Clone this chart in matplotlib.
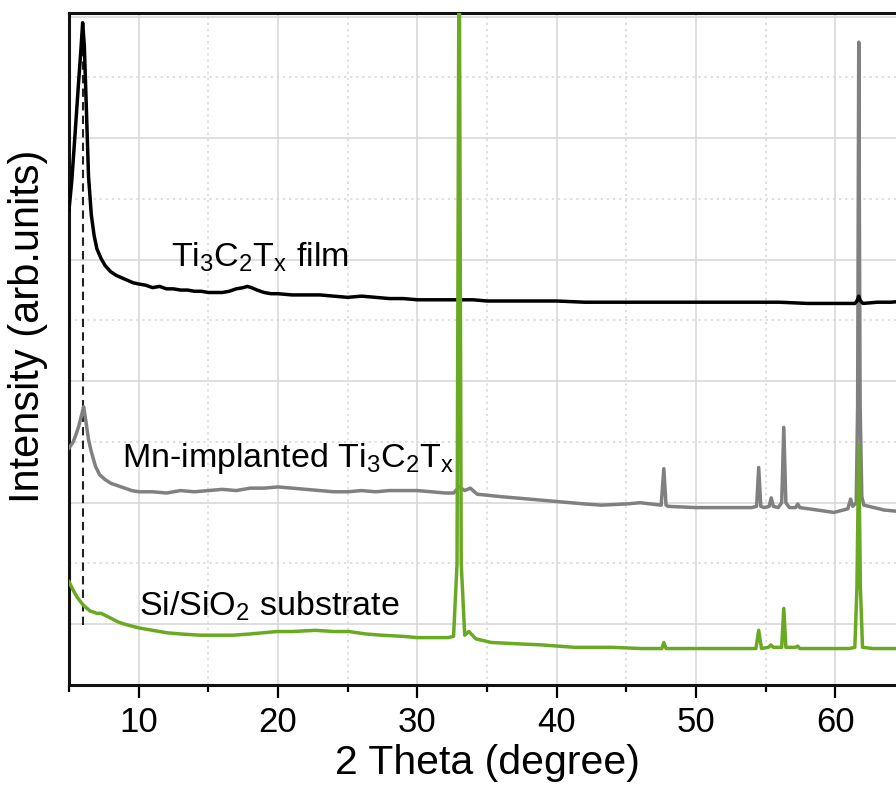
import matplotlib
matplotlib.use("Agg")
import matplotlib.pyplot as plt
from matplotlib.ticker import MultipleLocator, FixedLocator

plt.rcParams['font.family'] = ['Liberation Sans', 'DejaVu Sans']
plt.rcParams['mathtext.fontset'] = 'custom'
plt.rcParams['mathtext.rm'] = 'Liberation Sans'
plt.rcParams['mathtext.it'] = 'Liberation Sans:italic'

# ---------------- data ----------------
film_2theta = [5.0, 5.2, 5.45, 5.7, 5.85, 5.98, 6.1, 6.25, 6.4, 6.6, 6.8, 7.0, 7.3, 7.6,
               8.0, 8.4, 8.8, 9.2, 9.6, 10.0, 10.5, 11.0, 11.5, 12.0, 12.5, 13.0, 13.5,
               14.0, 14.5, 15.0, 15.5, 16.0, 16.5, 17.0, 17.5, 17.8, 18.1, 18.5, 19.0,
               19.5, 20.0, 21.0, 22.0, 23.0, 24.0, 25.0, 26.0, 27.0, 28.0, 29.0, 30.0,
               31.0, 32.0, 33.0, 34.0, 35.0, 36.0, 38.0, 40.0, 42.0, 44.0, 46.0, 48.0,
               50.0, 52.0, 54.0, 56.0, 58.0, 60.0, 61.4, 61.55, 61.68, 61.8, 62.0, 63.0,
               64.0, 65.0]
film_int = [3.91, 4.15, 4.56, 4.98, 5.22, 5.45, 5.26, 4.73, 4.19, 3.87, 3.70, 3.59, 3.51, 3.45,
            3.40, 3.37, 3.35, 3.33, 3.31, 3.30, 3.29, 3.27, 3.28, 3.26, 3.26, 3.25, 3.25,
            3.24, 3.24, 3.23, 3.23, 3.23, 3.24, 3.26, 3.27, 3.28, 3.27, 3.25, 3.23,
            3.22, 3.22, 3.21, 3.21, 3.21, 3.20, 3.19, 3.20, 3.19, 3.18, 3.18, 3.17,
            3.17, 3.17, 3.17, 3.17, 3.16, 3.16, 3.16, 3.16, 3.15, 3.15, 3.15, 3.15,
            3.15, 3.15, 3.15, 3.15, 3.14, 3.14, 3.14, 3.16, 3.20, 3.16, 3.14, 3.15,
            3.15, 3.16]

mn_2theta = [5.0, 5.3, 5.5, 5.7, 5.9, 6.05, 6.2, 6.4, 6.6, 6.9, 7.2, 7.6, 8.0, 8.5, 9.0,
             9.5, 10.0, 11.0, 12.0, 13.0, 14.0, 15.0, 16.0, 17.0, 18.0, 19.0, 20.0,
             21.0, 22.0, 23.0, 24.0, 25.0, 26.0, 27.0, 28.0, 29.0, 30.0, 31.0, 32.0,
             32.6, 33.0, 33.4, 33.8, 34.3, 36.0, 38.0, 40.0, 42.0, 43.2, 45.0, 46.0,
             47.5, 47.69, 47.85, 48.0, 50.0, 52.0, 54.0, 54.35, 54.5, 54.65, 54.9, 55.25,
             55.4, 55.55, 55.9, 56.15, 56.3, 56.45, 56.7, 57.15, 57.3, 57.45, 58.7, 59.9,
             60.9, 61.1, 61.25, 61.5, 61.6, 61.68, 61.78, 61.9, 62.05, 63.5, 64.4, 65.0]
mn_int = [1.95, 2.00, 2.06, 2.13, 2.22, 2.29, 2.18, 2.02, 1.92, 1.80, 1.73, 1.69, 1.66, 1.64, 1.62,
          1.60, 1.59, 1.59, 1.58, 1.60, 1.59, 1.60, 1.61, 1.60, 1.62, 1.62, 1.63,
          1.62, 1.61, 1.60, 1.59, 1.59, 1.60, 1.59, 1.60, 1.60, 1.60, 1.59, 1.58,
          1.58, 1.63, 1.60, 1.62, 1.57, 1.55, 1.53, 1.51, 1.49, 1.48, 1.49, 1.50,
          1.48, 1.78, 1.48, 1.47, 1.46, 1.46, 1.46, 1.47, 1.79, 1.47, 1.46, 1.47,
          1.54, 1.47, 1.46, 1.50, 2.12, 1.50, 1.46, 1.46, 1.49, 1.46, 1.44, 1.42,
          1.45, 1.53, 1.47, 1.50, 2.30, 5.29, 2.30, 1.55, 1.48, 1.44, 1.43, 1.43]

si_2theta = [5.0, 5.3, 5.6, 6.0, 6.5, 7.0, 7.3, 8.0, 8.5, 9.0, 10.0, 11.0, 12.0, 13.0,
             14.4, 15.5, 16.8, 18.0, 19.9, 21.0, 22.7, 24.0, 25.1, 26.3, 27.4, 29.0,
             30.0, 31.2, 32.2, 32.6, 32.85, 33.0, 33.15, 33.4, 33.7, 34.2, 35.3, 37.0,
             38.9, 41.3, 44.0, 46.1, 47.55, 47.69, 47.85, 48.4, 50.8, 53.0, 54.3, 54.5,
             54.7, 55.2, 55.37, 55.55, 56.15, 56.3, 56.45, 57.15, 57.3, 57.45, 59.1,
             61.0, 61.4, 61.55, 61.68, 61.8, 61.95, 62.7, 64.4, 65.0]
si_int = [0.85, 0.78, 0.72, 0.66, 0.61, 0.59, 0.59, 0.55, 0.52, 0.50, 0.47, 0.45, 0.43, 0.42,
          0.41, 0.41, 0.41, 0.42, 0.44, 0.44, 0.45, 0.44, 0.44, 0.42, 0.41, 0.40,
          0.39, 0.39, 0.39, 0.40, 1.00, 6.50, 1.00, 0.41, 0.44, 0.38, 0.35, 0.34,
          0.33, 0.31, 0.31, 0.30, 0.30, 0.35, 0.30, 0.30, 0.30, 0.30, 0.30, 0.45,
          0.30, 0.31, 0.33, 0.31, 0.31, 0.63, 0.31, 0.31, 0.32, 0.30, 0.30,
          0.30, 0.31, 0.80, 1.97, 0.80, 0.31, 0.30, 0.30, 0.30]

xticks_major = [10, 20, 30, 40, 50, 60]
dash_x = 6.0

# ---------------- figure ----------------
fig = plt.figure(figsize=(8.96, 7.87), dpi=100)
ax = fig.add_axes([69/896, 102/787, 836/896, 672/787])

ax.plot(mn_2theta, mn_int, color='#808080', lw=2.5, zorder=3)
ax.plot(film_2theta, film_int, color='#000000', lw=2.5, zorder=4)
ax.plot(si_2theta, si_int, color='#6aaa22', lw=2.5, zorder=5)
ax.vlines(dash_x, 0.49, 5.35, colors='#222222', linestyles=(0, (4, 2.5)), lw=1.5, zorder=2)

ax.set_xlim(5, 65)
ax.set_ylim(0, 5.53)

ax.xaxis.set_major_locator(FixedLocator(xticks_major))
ax.xaxis.set_minor_locator(MultipleLocator(5))
ax.yaxis.set_major_locator(FixedLocator([0.5, 1.5, 2.5, 3.5, 4.5, 5.5]))
ax.yaxis.set_minor_locator(FixedLocator([1, 2, 3, 4, 5]))
ax.set_yticklabels([])
ax.tick_params(axis='y', which='both', length=0)
ax.tick_params(axis='x', which='major', length=9, width=1.6, labelsize=25, pad=6, direction='out')
ax.tick_params(axis='x', which='minor', length=5, width=1.6, direction='out')

ax.grid(which='major', color='#d6d6d6', lw=1.1, ls='-')
ax.grid(which='minor', color='#d6d6d6', lw=1.1, ls=(0, (1.5, 2.5)))
ax.set_axisbelow(True)

for s in ['left', 'top', 'bottom', 'right']:
    ax.spines[s].set_linewidth(2.2)
    ax.spines[s].set_color('#111111')

ax.set_xlabel('2 Theta (degree)', fontsize=29.5, labelpad=4)
ax.set_ylabel('Intensity (arb.units)', fontsize=30)
ax.yaxis.set_label_coords(-0.025, 0.534)

ax.text(12.3, 3.44, r'$\mathrm{Ti_3C_2T_x}$ film', fontsize=24.5, ha='left', va='baseline')
ax.text(8.8, 1.79, r'Mn-implanted $\mathrm{Ti_3C_2T_x}$', fontsize=24.5, ha='left', va='baseline')
ax.text(10.0, 0.575, r'Si/SiO$\mathrm{_2}$ substrate', fontsize=24.5, ha='left', va='baseline')

fig.savefig('out.png', dpi=100)
